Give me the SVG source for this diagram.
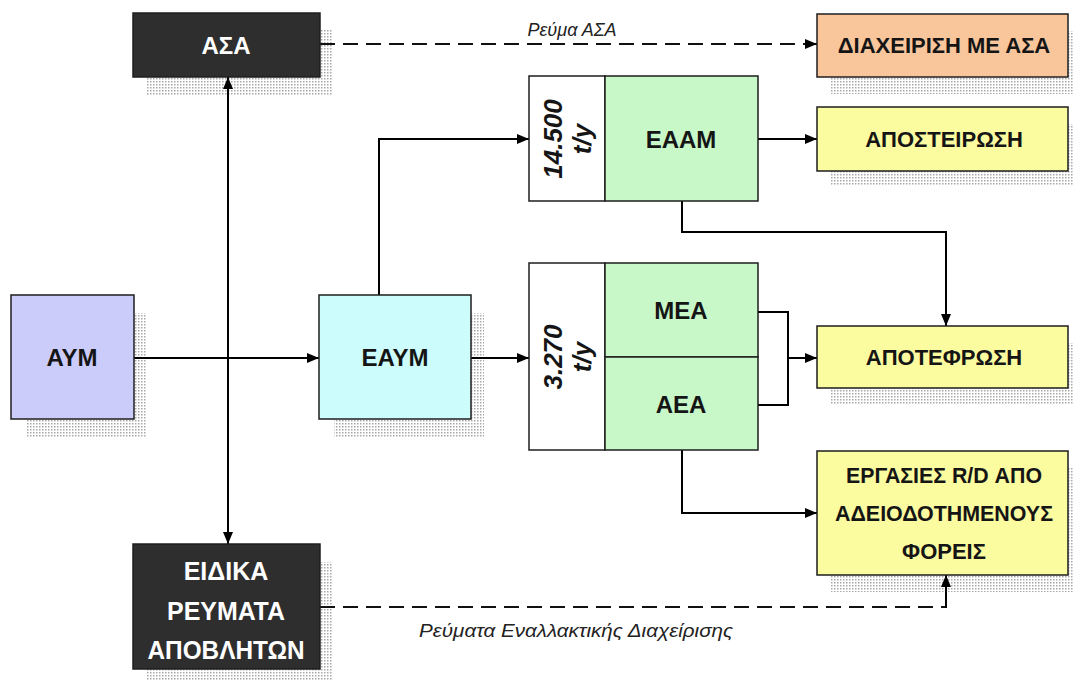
<svg xmlns="http://www.w3.org/2000/svg" width="1074" height="680" viewBox="0 0 1074 680">
  <style>
    .box { stroke: #1e1e1e; stroke-width: 1.5; }
    .shadow { fill: url(#dots); }
    .lbl { font-family: "Liberation Sans", Arial, sans-serif; font-weight: bold; font-size: 22px; fill: #151515; text-anchor: middle; }
    .big { font-size: 24px; }
    .wlbl { fill: #ffffff; }
    .rot { font-family: "Liberation Sans", Arial, sans-serif; font-weight: bold; font-style: italic; font-size: 26px; fill: #151515; text-anchor: middle; }
    .flow { font-family: "Liberation Sans", Arial, sans-serif; font-style: italic; font-size: 18px; fill: #222222; text-anchor: middle; }
    .line { fill: none; stroke: #000000; stroke-width: 2; }
    .dash { fill: none; stroke: #111111; stroke-width: 2; stroke-dasharray: 15 8; }
  </style>
  <defs>
    <pattern id="dots" width="3" height="3" patternUnits="userSpaceOnUse">
      <rect x="0" y="0" width="1.5" height="1.5" fill="#a8a8a8"/>
    </pattern>
    <marker id="arrow" markerUnits="userSpaceOnUse" markerWidth="12" markerHeight="10" refX="12" refY="5" orient="auto">
      <path d="M0,0 L12,5 L0,10 z" fill="#000000"/>
    </marker>
  </defs>
  <rect x="0" y="0" width="1074" height="680" fill="#ffffff"/>

  <!-- shadows -->
  <g id="shadows">
    <rect class="shadow" x="147" y="30" width="186" height="65"/>
    <rect class="shadow" x="831" y="31" width="243" height="63"/>
    <rect class="shadow" x="831" y="124" width="243" height="61"/>
    <rect class="shadow" x="26" y="313" width="120" height="124"/>
    <rect class="shadow" x="334" y="313" width="150" height="124"/>
    <rect class="shadow" x="831" y="343" width="243" height="62"/>
    <rect class="shadow" x="831" y="468" width="243" height="124"/>
    <rect class="shadow" x="147" y="562" width="186" height="118"/>
  </g>

  <!-- connectors -->
  <g id="connectors">
    <path class="dash" d="M320,44 L817,44" marker-end="url(#arrow)"/>
    <text class="flow" x="572" y="36">Ρεύμα ΑΣΑ</text>
    <path class="line" d="M228,358 L228,77" marker-end="url(#arrow)"/>
    <path class="line" d="M228,358 L228,544" marker-end="url(#arrow)"/>
    <path class="line" d="M134,358 L319,358" marker-end="url(#arrow)"/>
    <path class="line" d="M379,295 L379,139 L529,139" marker-end="url(#arrow)"/>
    <path class="line" d="M471,358 L529,358" marker-end="url(#arrow)"/>
    <path class="line" d="M758,139 L817,139" marker-end="url(#arrow)"/>
    <path class="line" d="M682,201 L682,232 L946,232 L946,326" marker-end="url(#arrow)"/>
    <path class="line" d="M758,312 L788,312 L788,405 L758,405"/>
    <path class="line" d="M788,358 L817,358" marker-end="url(#arrow)"/>
    <path class="line" d="M682,450 L682,513 L817,513" marker-end="url(#arrow)"/>
    <path class="dash" d="M320,607 L946,607"/>
    <path class="line" d="M946,608 L946,575" marker-end="url(#arrow)"/>
    <text class="flow" x="576" y="637" textLength="314" lengthAdjust="spacingAndGlyphs">Ρεύματα Εναλλακτικής Διαχείρισης</text>
  </g>

  <g id="asa">
    <rect class="box" x="133" y="13" width="187" height="64" fill="#2e2e2e"/>
    <text class="lbl big wlbl" x="226" y="54">ΑΣΑ</text>
  </g>

  <g id="diaxeirisi">
    <rect class="box" x="817" y="14" width="251" height="63" fill="#f9c69c"/>
    <text class="lbl" x="944" y="53">ΔΙΑΧΕΙΡΙΣΗ ΜΕ ΑΣΑ</text>
  </g>

  <g id="eaam-block">
    <rect class="box" x="529" y="76" width="76" height="125" fill="#ffffff"/>
    <rect class="box" x="605" y="76" width="153" height="125" fill="#c8f7c8"/>
    <text class="rot" transform="translate(567,139) rotate(-90)"><tspan x="0" y="-5">14.500</tspan><tspan x="0" y="24">t/y</tspan></text>
    <text class="lbl big" x="681" y="148">ΕΑΑΜ</text>
  </g>

  <g id="apostirosi">
    <rect class="box" x="817" y="107" width="251" height="64" fill="#fbfb9f"/>
    <text class="lbl" x="944" y="147">ΑΠΟΣΤΕΙΡΩΣΗ</text>
  </g>

  <g id="aym">
    <rect class="box" x="11" y="295" width="123" height="124" fill="#ccccfb"/>
    <text class="lbl big" x="72" y="366">ΑΥΜ</text>
  </g>

  <g id="eaym">
    <rect class="box" x="319" y="295" width="152" height="124" fill="#ccfcfc"/>
    <text class="lbl big" x="395" y="366">ΕΑΥΜ</text>
  </g>

  <g id="mea-aea-block">
    <rect class="box" x="529" y="263" width="76" height="187" fill="#ffffff"/>
    <rect class="box" x="605" y="263" width="153" height="94" fill="#c8f7c8"/>
    <rect class="box" x="605" y="357" width="153" height="93" fill="#c8f7c8"/>
    <text class="rot" transform="translate(567,357) rotate(-90)"><tspan x="0" y="-5">3.270</tspan><tspan x="0" y="24">t/y</tspan></text>
    <text class="lbl big" x="681" y="319">ΜΕΑ</text>
    <text class="lbl big" x="681" y="413">ΑΕΑ</text>
  </g>

  <g id="apotefrosi">
    <rect class="box" x="817" y="326" width="251" height="62" fill="#fbfb9f"/>
    <text class="lbl" x="944" y="365">ΑΠΟΤΕΦΡΩΣΗ</text>
  </g>

  <g id="ergasies">
    <rect class="box" x="817" y="451" width="251" height="124" fill="#fbfb9f"/>
    <text class="lbl" x="944" y="483" textLength="196" lengthAdjust="spacingAndGlyphs">ΕΡΓΑΣΙΕΣ R/D ΑΠΟ</text>
    <text class="lbl" x="944" y="521" textLength="218" lengthAdjust="spacingAndGlyphs">ΑΔΕΙΟΔΟΤΗΜΕΝΟΥΣ</text>
    <text class="lbl" x="944" y="559">ΦΟΡΕΙΣ</text>
  </g>

  <g id="eidika">
    <rect class="box" x="133" y="544" width="187" height="125" fill="#2e2e2e"/>
    <text class="lbl wlbl" x="226" y="580" style="font-size:25px">ΕΙΔΙΚΑ</text>
    <text class="lbl wlbl" x="226" y="620" style="font-size:25px" textLength="118" lengthAdjust="spacingAndGlyphs">ΡΕΥΜΑΤΑ</text>
    <text class="lbl wlbl" x="226" y="659" style="font-size:25px" textLength="157" lengthAdjust="spacingAndGlyphs">ΑΠΟΒΛΗΤΩΝ</text>
  </g>
</svg>
